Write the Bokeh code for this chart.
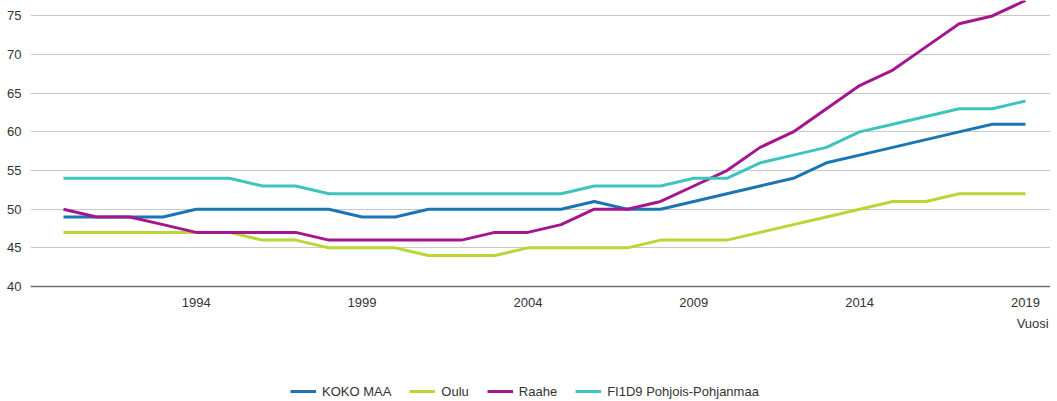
from bokeh.plotting import figure
from bokeh.models import FixedTicker, Legend, LegendItem, Label, Range1d
from bokeh.embed import file_html
from bokeh.resources import INLINE

years = list(range(1990, 2020))
koko_maa = [49, 49, 49, 49, 50, 50, 50, 50, 50, 49, 49, 50, 50, 50, 50, 50, 51, 50, 50, 51,
            52, 53, 54, 56, 57, 58, 59, 60, 61, 61]
oulu = [47, 47, 47, 47, 47, 47, 46, 46, 45, 45, 45, 44, 44, 44, 45, 45, 45, 45, 46, 46,
        46, 47, 48, 49, 50, 51, 51, 52, 52, 52]
raahe = [50, 49, 49, 48, 47, 47, 47, 47, 46, 46, 46, 46, 46, 47, 47, 48, 50, 50, 51, 53,
         55, 58, 60, 63, 66, 68, 71, 74, 75, 77]
pohjois_pohjanmaa = [54, 54, 54, 54, 54, 54, 53, 53, 52, 52, 52, 52, 52, 52, 52, 52, 53, 53, 53, 54,
                     54, 56, 57, 58, 60, 61, 62, 63, 63, 64]
series_names = ["KOKO MAA", "Oulu", "Raahe", "FI1D9 Pohjois-Pohjanmaa"]
series_colors = ["#1b75b3", "#b9d636", "#a4168f", "#3ec4be"]
x_ticks = [1994, 1999, 2004, 2009, 2014, 2019]
y_ticks = [40, 45, 50, 55, 60, 65, 70, 75]
x_title = "Vuosi"

FONT = "Liberation Sans"
Y_BASE = 40
PX_PER_UNIT = 286 / (77.0 - Y_BASE)

p = figure(width=1050, height=400, output_backend="svg", toolbar_location=None,
           x_range=Range1d(1989.005, 2019.754),
           y_range=Range1d(Y_BASE - 114 / PX_PER_UNIT, 77.0),
           min_border_left=30, min_border_right=0, min_border_top=0, min_border_bottom=0)
p.outline_line_color = None
p.background_fill_color = "white"
p.border_fill_color = "white"

p.xgrid.grid_line_color = None
p.ygrid.grid_line_color = "#c8c8c8"
p.ygrid.grid_line_width = 1

p.yaxis.ticker = FixedTicker(ticks=y_ticks)
p.yaxis.axis_line_color = None
p.yaxis.major_tick_line_color = None
p.yaxis.minor_tick_line_color = None
p.yaxis.major_label_standoff = 3
p.yaxis.major_label_text_font = FONT
p.yaxis.major_label_text_font_size = "13px"
p.yaxis.major_label_text_color = "#333333"

p.xaxis.fixed_location = Y_BASE
p.xaxis.ticker = FixedTicker(ticks=x_ticks)
p.xaxis.axis_line_color = "#707070"
p.xaxis.axis_line_width = 1.5
p.xaxis.major_tick_line_color = None
p.xaxis.minor_tick_line_color = None
p.xaxis.major_label_standoff = 5
p.xaxis.major_label_text_font = FONT
p.xaxis.major_label_text_font_size = "13px"
p.xaxis.major_label_text_color = "#333333"

all_series = [koko_maa, oulu, raahe, pohjois_pohjanmaa]
items = []
for name, vals, col in zip(series_names, all_series, series_colors):
    r = p.line(years, vals, line_color=col, line_width=3, line_join="round")
    items.append(LegendItem(label=name, renderers=[r]))

lbl = Label(x=2019.70, y=Y_BASE - 37 / PX_PER_UNIT, text=x_title,
            text_align="right", text_baseline="middle",
            text_font=FONT, text_font_size="13px", text_color="#333333")
p.add_layout(lbl)

legend = Legend(items=items, orientation="horizontal", location=(260, 0),
                border_line_color=None, background_fill_alpha=0,
                label_text_font=FONT, label_text_font_size="13px", label_text_color="#333333",
                glyph_width=26, glyph_height=12, label_height=18, label_standoff=6, spacing=18,
                padding=0, margin=0)
p.add_layout(legend, "center")

open("out.html", "w").write(file_html(p, INLINE))
